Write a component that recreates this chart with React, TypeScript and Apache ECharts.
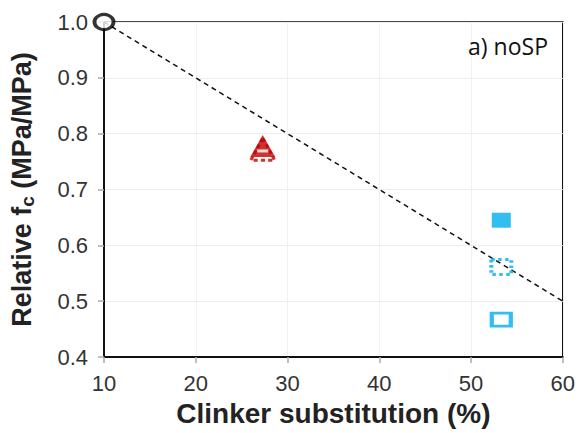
import React, { useEffect, useRef } from "react";
import * as echarts from "echarts";

// Clinker substitution (%) vs relative compressive strength
const xTicks = [10, 20, 30, 40, 50, 60];
const yTicks = [0.4, 0.5, 0.6, 0.7, 0.8, 0.9, 1.0];

const referencePoint = [[10, 1.0]];
const trendLine = [[10, 1.0], [60, 0.5]];
const redFilled = [[27.3, 0.778]];
const redDashed = [[27.3, 0.772]];
const blueFilled = [[53.3, 0.645]];
const blueDotted = [[53.3, 0.561]];
const blueOpen = [[53.3, 0.467]];

const BLUE = "#00AEEF";
const RED = "#C00000";
const FONT = "Liberation Sans, Arial, sans-serif";

export default function App() {
  const ref = useRef<HTMLDivElement>(null);

  useEffect(() => {
    if (!ref.current) return;
    const chart = echarts.init(ref.current, null, { renderer: "svg" });
    chart.setOption({
      animation: false,
      backgroundColor: "#fff",
      grid: { left: 104, right: 13, top: 22, bottom: 76, show: true, borderColor: "#111", borderWidth: 1.5 },
      xAxis: {
        type: "value",
        min: xTicks[0],
        max: xTicks[xTicks.length - 1],
        interval: 10,
        name: "Clinker substitution (%)",
        nameLocation: "middle",
        nameGap: 42,
        nameTextStyle: { fontFamily: FONT, fontSize: 28, fontWeight: "bold", color: "#222" },
        axisLine: { show: true, lineStyle: { color: "#111", width: 2 } },
        axisTick: { show: true, length: 6, lineStyle: { color: "#aaa", width: 1.5 } },
        axisLabel: { fontFamily: FONT, fontSize: 22, color: "#333", margin: 15 },
        splitLine: { show: true, lineStyle: { color: "#f0f0f0", width: 1 } },
      },
      yAxis: {
        type: "value",
        min: yTicks[0],
        max: yTicks[yTicks.length - 1],
        interval: 0.1,
        name: "{m|Relative f}{s|c}{m| (MPa/MPa)}",
        nameLocation: "middle",
        nameGap: 67,
        nameTextStyle: {
          rich: {
            m: { fontFamily: FONT, fontSize: 27, fontWeight: "bold", color: "#222" },
            s: { fontFamily: FONT, fontSize: 19, fontWeight: "bold", color: "#222", verticalAlign: "bottom", padding: [12, 0, 0, 0] },
          },
        },
        axisLine: { show: true, lineStyle: { color: "#111", width: 2 } },
        axisTick: { show: true, length: 6, lineStyle: { color: "#aaa", width: 1.5 } },
        axisLabel: { fontFamily: FONT, fontSize: 22, color: "#333", margin: 16, formatter: (v: number) => v.toFixed(1) },
        splitLine: { show: true, lineStyle: { color: "#eeeeee", width: 1 } },
      },
      graphic: [
        {
          type: "text",
          right: 30,
          top: 34,
          z: 100,
          style: { text: "a) noSP", font: "23px 'Open Sans', sans-serif", fill: "#111" },
        },
      ],
      series: [
        {
          type: "line",
          data: trendLine,
          symbol: "none",
          lineStyle: { color: "#111", width: 1.5, type: [5, 4] },
          z: 1,
        },
        {
          // dashed triangle sits behind the filled one; its base shows below
          type: "scatter",
          data: redDashed,
          symbol: "triangle",
          symbolSize: [24, 22],
          itemStyle: { color: "transparent", borderColor: RED, borderWidth: 3, borderType: [4, 3] },
          z: 2,
        },
        {
          type: "scatter",
          data: redFilled,
          symbol: "triangle",
          symbolSize: [25, 22],
          itemStyle: { color: RED },
          z: 3,
        },
        {
          // light bar inside the filled triangle
          type: "scatter",
          data: redFilled,
          symbol: "rect",
          symbolSize: [11, 3],
          symbolOffset: [0, 5],
          itemStyle: { color: "#fff" },
          z: 4,
        },
        {
          type: "scatter",
          data: blueFilled,
          symbol: "rect",
          symbolSize: [19, 15],
          itemStyle: { color: BLUE },
          z: 3,
        },
        {
          type: "scatter",
          data: blueDotted,
          symbol: "rect",
          symbolSize: [20, 15],
          itemStyle: { color: "transparent", borderColor: BLUE, borderWidth: 3.5, borderType: [3, 3] },
          z: 3,
        },
        {
          type: "scatter",
          data: blueOpen,
          symbol: "rect",
          symbolSize: [19, 13],
          itemStyle: { color: "#fff", borderColor: BLUE, borderWidth: 3.5 },
          z: 3,
        },
        {
          type: "scatter",
          data: referencePoint,
          symbol: "circle",
          symbolSize: [19, 15],
          itemStyle: { color: "#fff", borderColor: "#000", borderWidth: 3.5 },
          z: 5,
        },
      ],
    });
    return () => chart.dispose();
  }, []);

  return <div ref={ref} style={{ width: 578, height: 433, position: "absolute", left: 0, top: 0 }} />;
}
